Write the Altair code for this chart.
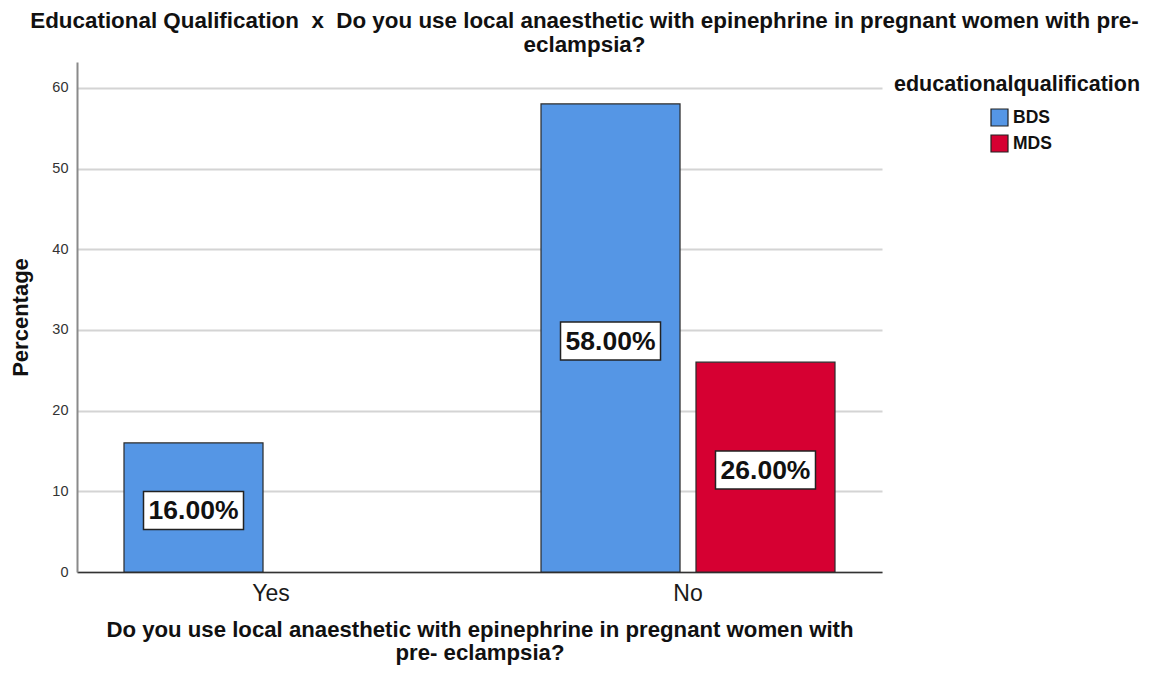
import altair as alt
import pandas as pd

answers = ["Yes", "No"]
groups = ["BDS", "MDS"]
row_answer = ["Yes", "No", "No"]
row_group = ["BDS", "BDS", "MDS"]
row_pct = [16.0, 58.0, 26.0]
y_ticks = [0, 10, 20, 30, 40, 50, 60]

BLUE = "#5596e5"
RED = "#d60032"
FONT = "Liberation Sans"
NB = "\u00a0"

df = pd.DataFrame({"answer": row_answer, "qual": row_group, "pct": row_pct})

x_enc = alt.X(
    "answer:N",
    sort=answers,
    scale=alt.Scale(domain=answers, paddingInner=0.295, paddingOuter=0.1127),
    axis=alt.Axis(
        title=["Do you use local anaesthetic with epinephrine in pregnant women with",
               "pre- eclampsia?"],
        labelAngle=0, labelFontSize=23, labelFont=FONT, labelColor="#1a1a1a",
        labelPadding=10, ticks=False,
        domainColor="#333333", domainWidth=1.5,
        titleFont=FONT, titleFontSize=22.2, titleFontWeight="bold", titleColor="#111111",
        titleY=64, titleBaseline="alphabetic", titleLineHeight=23.5,
    ),
)
xoff_enc = alt.XOffset(
    "qual:N", scale=alt.Scale(domain=groups, paddingInner=0.103, paddingOuter=0)
)
y_scale = alt.Scale(domain=[0, 63.2], nice=False, zero=True)

base = alt.Chart(df).transform_calculate(
    mid="datum.pct / 2",
    label="format(datum.pct, '.2f') + '%'",
)

bars = base.mark_bar(stroke="#2a2a2a", strokeWidth=1.2, opacity=1).encode(
    x=x_enc,
    xOffset=xoff_enc,
    y=alt.Y(
        "pct:Q",
        scale=y_scale,
        axis=alt.Axis(
            title="Percentage", values=y_ticks, ticks=False, labelPadding=9,
            labelFontSize=14.5, labelFont=FONT, labelColor="#333333",
            grid=True, gridColor="#d4d4d4", gridWidth=2,
            domainColor="#8a8a8a", domainWidth=2,
            titleFont=FONT, titleFontSize=22, titleFontWeight="bold", titleColor="#111111",
            titleX=-57, titleY=255, titleAlign="center", titleBaseline="middle",
        ),
    ),
    color=alt.Color(
        "qual:N",
        scale=alt.Scale(domain=groups, range=[BLUE, RED]),
        legend=alt.Legend(
            title=None, orient="none", legendX=913, legendY=46,
            symbolType="square", symbolSize=289, symbolStrokeColor="#222222",
            symbolStrokeWidth=1.2, symbolOpacity=1,
            labelFont=FONT, labelFontSize=17.5, labelFontWeight="bold",
            labelColor="#111111", labelOffset=4, rowPadding=3,
        ),
    ),
)

boxes = base.mark_point(
    shape="M-1,-0.32L1,-0.32L1,0.44L-1,0.44Z",
    size=10000, filled=True, fill="white", stroke="#222222",
    strokeWidth=1.5, opacity=1,
).encode(x=x_enc, xOffset=xoff_enc, y=alt.Y("mid:Q", scale=y_scale))

labels = base.mark_text(
    font=FONT, fontSize=26.5, fontWeight="bold", color="#111111",
    baseline="middle", align="center", dy=4,
).encode(x=x_enc, xOffset=xoff_enc, y=alt.Y("mid:Q", scale=y_scale), text="label:N")

legend_title = alt.Chart(pd.DataFrame({"t": ["educationalqualification"]})).mark_text(
    font=FONT, fontSize=21.5, fontWeight="bold", color="#111111",
    align="left", baseline="middle",
).encode(text="t:N", x=alt.value(817), y=alt.value(23))

chart = alt.layer(bars, boxes, labels, legend_title).properties(
    width=805,
    height=510,
    title=alt.TitleParams(
        text=[f"Educational Qualification {NB}x{NB} Do you use local anaesthetic with epinephrine in pregnant women with pre-",
              "eclampsia?"],
        font=FONT, fontSize=22.4, fontWeight="bold", color="#111111",
        anchor="middle", dx=105, offset=6, lineHeight=24,
    ),
    autosize=alt.AutoSizeParams(type="none"),
    padding={"left": 69, "top": 54, "right": 263, "bottom": 93},
).configure_view(stroke=None)

chart.save("out.html", embed_options={"renderer": "svg", "actions": False})
